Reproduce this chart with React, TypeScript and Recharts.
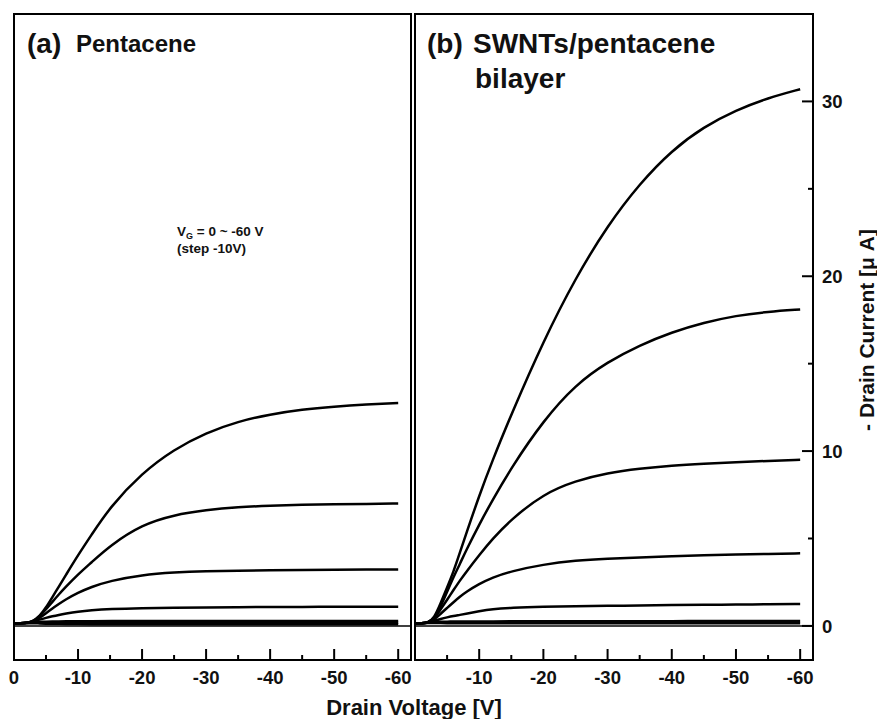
import React from 'react';
import { LineChart, Line, XAxis, YAxis, ReferenceArea, ReferenceLine } from 'recharts';

// Drain voltage sample points (V)
const drainVoltage = [0, -1, -2, -3, -4, -5, -6, -7, -8, -10, -12, -15, -20, -25, -30, -35, -40, -45, -50, -55, -60];

// (a) Pentacene : -Drain current (uA) for VG = 0 ... -60 V
const pentaVg0 = [0.15, 0.15, 0.15, 0.16, 0.14, 0.13, 0.12, 0.12, 0.11, 0.11, 0.1, 0.1, 0.1, 0.1, 0.1, 0.1, 0.1, 0.1, 0.1, 0.1, 0.1];
const pentaVg10 = [0.15, 0.15, 0.16, 0.2, 0.18, 0.17, 0.17, 0.17, 0.17, 0.17, 0.17, 0.18, 0.18, 0.18, 0.18, 0.18, 0.18, 0.18, 0.18, 0.18, 0.18];
const pentaVg20 = [0.15, 0.15, 0.17, 0.22, 0.23, 0.24, 0.25, 0.26, 0.26, 0.27, 0.27, 0.28, 0.28, 0.28, 0.28, 0.28, 0.28, 0.28, 0.28, 0.28, 0.28];
const pentaVg30 = [0.15, 0.15, 0.17, 0.24, 0.36, 0.46, 0.55, 0.63, 0.7, 0.82, 0.9, 0.97, 1.02, 1.04, 1.06, 1.07, 1.08, 1.09, 1.09, 1.1, 1.1];
const pentaVg40 = [0.15, 0.15, 0.17, 0.25, 0.45, 0.73, 1.0, 1.25, 1.5, 1.9, 2.22, 2.58, 2.92, 3.06, 3.13, 3.16, 3.18, 3.2, 3.21, 3.22, 3.23];
const pentaVg50 = [0.15, 0.15, 0.17, 0.26, 0.55, 0.95, 1.38, 1.8, 2.2, 2.95, 3.6, 4.6, 5.8, 6.35, 6.63, 6.8, 6.88, 6.93, 6.96, 6.98, 7.0];
const pentaVg60 = [0.15, 0.15, 0.17, 0.27, 0.55, 1.05, 1.65, 2.25, 2.85, 4.05, 5.15, 6.8, 8.75, 10.1, 11.05, 11.7, 12.1, 12.38, 12.55, 12.67, 12.75];

// (b) SWNTs/pentacene bilayer
const swntVg0 = [0.15, 0.15, 0.16, 0.18, 0.16, 0.15, 0.15, 0.15, 0.15, 0.15, 0.15, 0.15, 0.15, 0.15, 0.15, 0.15, 0.15, 0.15, 0.15, 0.15, 0.15];
const swntVg10 = [0.15, 0.15, 0.17, 0.24, 0.24, 0.24, 0.25, 0.25, 0.25, 0.25, 0.26, 0.26, 0.26, 0.27, 0.27, 0.27, 0.27, 0.28, 0.28, 0.28, 0.28];
const swntVg20 = [0.15, 0.15, 0.18, 0.3, 0.4, 0.49, 0.57, 0.63, 0.7, 0.84, 0.96, 1.04, 1.1, 1.13, 1.15, 1.17, 1.19, 1.21, 1.22, 1.24, 1.25];
const swntVg30 = [0.15, 0.15, 0.18, 0.35, 0.7, 1.03, 1.36, 1.67, 1.95, 2.4, 2.76, 3.13, 3.52, 3.74, 3.85, 3.92, 3.98, 4.04, 4.08, 4.12, 4.15];
const swntVg40 = [0.15, 0.15, 0.18, 0.4, 0.95, 1.5, 2.05, 2.6, 3.1, 4.05, 4.95, 6.1, 7.55, 8.3, 8.75, 9.0, 9.17, 9.28, 9.37, 9.44, 9.5];
const swntVg50 = [0.15, 0.15, 0.18, 0.42, 1.1, 1.95, 2.8, 3.55, 4.35, 5.8, 7.15, 9.05, 11.75, 13.8, 15.1, 16.05, 16.8, 17.35, 17.75, 17.97, 18.1];
const swntVg60 = [0.15, 0.15, 0.18, 0.45, 1.3, 2.2, 3.1, 4.2, 5.3, 7.45, 9.4, 12.1, 16.3, 19.9, 22.9, 25.3, 27.2, 28.55, 29.5, 30.2, 30.7];

const gateKeys = ['vg0', 'vg10', 'vg20', 'vg30', 'vg40', 'vg50', 'vg60'];
const xTicks = [0, -5, -10, -15, -20, -25, -30, -35, -40, -45, -50, -55, -60];
const yTicks = [0, 5, 10, 15, 20, 25, 30];
const xDomain: [number, number] = [-62, 0];
const yDomain: [number, number] = [-1.95, 35];

const buildRows = (curves: number[][]) =>
  drainVoltage.map((v, i) => {
    const row: Record<string, number> = { v };
    curves.forEach((c, k) => {
      row[gateKeys[k]] = c[i];
    });
    return row;
  });

const pentaRows = buildRows([pentaVg0, pentaVg10, pentaVg20, pentaVg30, pentaVg40, pentaVg50, pentaVg60]);
const swntRows = buildRows([swntVg0, swntVg10, swntVg20, swntVg30, swntVg40, swntVg50, swntVg60]);

const FONT = '"Liberation Sans", Arial, Helvetica, sans-serif';

const makeXTick = (showZero: boolean) => (props: any) => {
  const { x, y, payload } = props;
  const v = payload.value as number;
  const major = v % 10 === 0;
  const label = major && (showZero || v !== 0);
  return (
    <g>
      <line x1={x} x2={x} y1={y} y2={y - (major ? 11 : 5)} stroke="#000" strokeWidth={2} />
      {label && (
        <text x={x} y={y + 24} textAnchor="middle" fontFamily={FONT} fontWeight="bold" fontSize={18.5} fill="#111">
          {String(v)}
        </text>
      )}
    </g>
  );
};

const yTick = (props: any) => {
  const { x, y, payload } = props;
  const v = payload.value as number;
  const major = v % 10 === 0;
  return (
    <g>
      <line x1={x} x2={x - (major ? 11 : 5)} y1={y} y2={y} stroke="#000" strokeWidth={2} />
      {major && (
        <text x={x + 9} y={y + 6.6} textAnchor="start" fontFamily={FONT} fontWeight="bold" fontSize={18.5} fill="#111">
          {String(v)}
        </text>
      )}
    </g>
  );
};

const renderLines = () =>
  gateKeys.map((k) => (
    <Line
      key={k}
      dataKey={k}
      type="basis"
      stroke="#000"
      strokeWidth={2.5}
      dot={false}
      activeDot={false}
      isAnimationActive={false}
    />
  ));

export default function App() {
  return (
    <div style={{ position: 'absolute', left: 0, top: 0, width: 877, height: 719, background: '#fff' }}>
      <div style={{ position: 'absolute', left: 0, top: 0 }}>
        <LineChart width={420} height={719} data={pentaRows} margin={{ top: 14, right: 9, bottom: 29, left: 14 }}>
          <XAxis
            dataKey="v"
            type="number"
            domain={xDomain}
            reversed
            ticks={xTicks}
            interval={0}
            height={30}
            axisLine={false}
            tickLine={false}
            tickSize={0}
            tickMargin={0}
            tick={makeXTick(true)}
          />
          <YAxis type="number" domain={yDomain} hide allowDataOverflow />
          <ReferenceLine y={0} stroke="#000" strokeWidth={1.5} />
          {renderLines()}
          <ReferenceArea x1={-62} x2={0} y1={-1.95} y2={35} fill="none" stroke="#000" strokeWidth={2} ifOverflow="visible" />
        </LineChart>
      </div>
      <div style={{ position: 'absolute', left: 400, top: 0 }}>
        <LineChart width={477} height={719} data={swntRows} margin={{ top: 14, right: 4, bottom: 29, left: 15 }}>
          <XAxis
            dataKey="v"
            type="number"
            domain={xDomain}
            reversed
            ticks={xTicks}
            interval={0}
            height={30}
            axisLine={false}
            tickLine={false}
            tickSize={0}
            tickMargin={0}
            tick={makeXTick(false)}
          />
          <YAxis
            type="number"
            orientation="right"
            domain={yDomain}
            ticks={yTicks}
            interval={0}
            width={60}
            axisLine={false}
            tickLine={false}
            tickSize={0}
            tickMargin={0}
            tick={yTick}
            allowDataOverflow
          />
          <ReferenceLine y={0} stroke="#000" strokeWidth={1.5} />
          {renderLines()}
          <ReferenceArea x1={-62} x2={0} y1={-1.95} y2={35} fill="none" stroke="#000" strokeWidth={2} ifOverflow="visible" />
        </LineChart>
      </div>
      <svg
        width={877}
        height={719}
        style={{ position: 'absolute', left: 0, top: 0, pointerEvents: 'none' }}
        fontFamily={FONT}
        fill="#111"
      >
        <text x={27} y={53} fontSize={28} fontWeight="bold">(a)</text>
        <text x={76} y={52} fontSize={24} fontWeight="bold">Pentacene</text>
        <text x={427} y={53} fontSize={28} fontWeight="bold">(b)</text>
        <text x={473} y={53} fontSize={28} fontWeight="bold">SWNTs/pentacene</text>
        <text x={475} y={88} fontSize={28} fontWeight="bold">bilayer</text>
        <text x={177} y={236} fontSize={13.5} fontWeight="bold">
          V<tspan fontSize={9} dy={3}>G</tspan>
          <tspan dy={-3}> = 0 ~ -60 V</tspan>
        </text>
        <text x={177} y={253} fontSize={13.5} fontWeight="bold">(step -10V)</text>
        <text x={414} y={715} fontSize={22} fontWeight="bold" textAnchor="middle">Drain Voltage [V]</text>
        <text
          x={0}
          y={0}
          fontSize={21}
          fontWeight="bold"
          textAnchor="middle"
          transform="translate(874, 330) rotate(-90)"
        >
          - Drain Current [μ A]
        </text>
      </svg>
    </div>
  );
}
